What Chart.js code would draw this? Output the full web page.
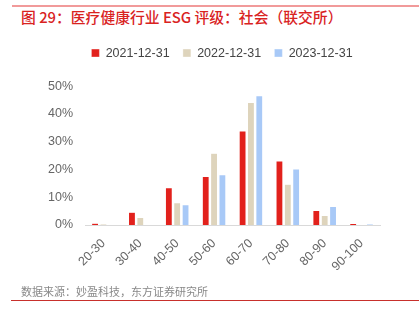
<!DOCTYPE html>
<html>
<head>
<meta charset="utf-8">
<script src="https://cdn.jsdelivr.net/npm/chart.js@4"></script>
<style>
  html, body { margin: 0; padding: 0; background: #fff; }
  body { width: 419px; height: 329px; position: relative; overflow: hidden;
         font-family: "Noto Sans CJK SC", "Noto Sans", sans-serif; }
  #wrap { position: absolute; left: 0; top: 0; width: 419px; height: 329px; }
  .topline { position: absolute; left: 12px; right: 0; top: 5px; height: 2px; background: #f19a9a; }
  .title { position: absolute; left: 21px; top: 6px; font-size: 14.8px; color: #d9231f; font-weight: 500; white-space: nowrap; }
  .source { position: absolute; left: 21px; top: 283px; font-size: 11px; color: #888; white-space: nowrap; }
  .botline { position: absolute; left: 11px; right: 0; top: 300px; height: 1px; background: #c8302c; }
</style>
</head>
<body>
<div class="topline"></div>
<div class="title">图 29：医疗健康行业 ESG 评级：社会（联交所）</div>
<div id="wrap"><canvas id="chart-esg" width="419" height="329"></canvas></div>
<div class="source">数据来源：妙盈科技，东方证券研究所</div>
<div class="botline"></div>
<script>
// ESG social score distribution, HKEX healthcare
const categories = ['20-30', '30-40', '40-50', '50-60', '60-70', '70-80', '80-90', '90-100'];
const seriesNames = ['2021-12-31', '2022-12-31', '2023-12-31'];
const values2021 = [0.6, 4.6, 13.4, 17.5, 33.9, 23.1, 5.2, 0.5];
const values2022 = [0.4, 2.7, 8.0, 25.9, 44.2, 14.7, 3.4, 0];
const values2023 = [0, 0, 7.3, 18.1, 46.6, 20.2, 6.7, 0.4];
const yTicks = [0, 10, 20, 30, 40, 50];

const colors = ['#e2211c', '#ded4bc', '#a8c9f7'];

const ctx = document.getElementById('chart-esg');

// extra room under the legend, and legend nudged right
const legendTweak = {
    id: 'legendTweak',
    beforeInit(chart) {
        const fit = chart.legend.fit;
        chart.legend.fit = function () {
            fit.bind(chart.legend)();
            this.height += 17;
        };
    },
    afterLayout(chart) {
        chart.legend.left += 32;
        chart.legend.right += 32;
    }
};

new Chart(ctx, {
    type: 'bar',
    data: {
        labels: categories,
        datasets: [values2021, values2022, values2023].map((d, i) => ({
            label: seriesNames[i],
            data: d,
            backgroundColor: colors[i],
            borderColor: '#ffffff',
            borderWidth: { left: 0.5, right: 0.5, top: 0.5, bottom: 0 },
            categoryPercentage: 0.68,
            barPercentage: 0.82
        }))
    },
    options: {
        responsive: false,
        animation: false,
        devicePixelRatio: 1,
        layout: { padding: { top: 33.5, right: 39, left: 0, bottom: 0 } },
        plugins: {
            legend: {
                position: 'top',
                labels: {
                    boxWidth: 8,
                    boxHeight: 8,
                    padding: 13.3,
                    color: '#444',
                    font: { size: 12.5, family: 'Liberation Sans, Arial, sans-serif' }
                }
            },
            tooltip: { enabled: false }
        },
        scales: {
            x: {
                grid: { display: false },
                border: { color: '#d9d9d9', width: 1 },
                ticks: {
                    color: '#666',
                    maxRotation: 45,
                    minRotation: 45,
                    font: { size: 12.5, family: 'Liberation Sans, Arial, sans-serif' }
                },
                afterFit: (s) => { s.height = 104; }
            },
            y: {
                min: 0,
                max: 50,
                grid: { display: false },
                border: { display: false },
                afterBuildTicks: (s) => { s.ticks = yTicks.map(v => ({ value: v })); },
                ticks: {
                    color: '#666',
                    padding: 4,
                    callback: (v) => v + '%',
                    font: { size: 12.5, family: 'Liberation Sans, Arial, sans-serif' }
                },
                afterFit: (s) => { s.width = 85; }
            }
        }
    },
    plugins: [legendTweak]
});
</script>
</body>
</html>
